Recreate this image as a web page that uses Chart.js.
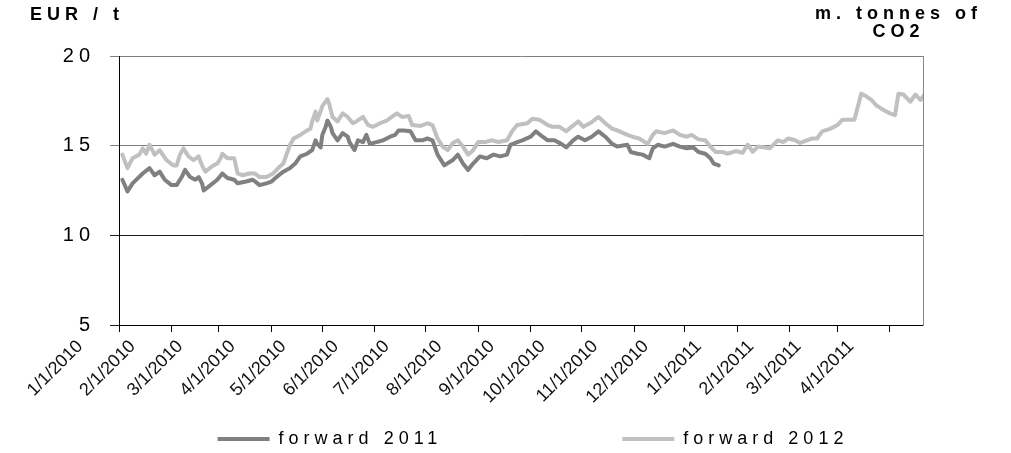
<!DOCTYPE html>
<html>
<head>
<meta charset="utf-8">
<script src="https://cdn.jsdelivr.net/npm/chart.js@4"></script>
<style>
  html, body { margin: 0; padding: 0; background: #fff; }
  #wrap { width: 1011px; height: 453px; position: relative; }
</style>
</head>
<body>
<div id="wrap"><canvas id="c"></canvas></div>
<script>
// ---- data (day 0 = 1 Jan 2010) ----
const monthDays = [0, 31, 59, 90, 120, 151, 181, 212, 243, 273, 304, 334, 365, 396, 424, 455];
const monthLabels = ['1/1/2010', '2/1/2010', '3/1/2010', '4/1/2010', '5/1/2010', '6/1/2010', '7/1/2010', '8/1/2010',
  '9/1/2010', '10/1/2010', '11/1/2010', '12/1/2010', '1/1/2011', '2/1/2011', '3/1/2011', '4/1/2011'];
const yTicks = [5, 10, 15, 20];
const seriesNames = ['forward 2011', 'forward 2012'];
const leftTitle = 'EUR / t';
const rightTitle = ['m. tonnes of', 'CO2'];

const days2011 = [2, 5, 8, 14, 18, 21, 24, 27, 31, 34,
  37, 39, 42, 45, 47, 49, 50, 54, 58, 61,
  64, 68, 70, 75, 79, 83, 87, 90, 93, 97,
  101, 104, 107, 111, 114, 116, 117, 119, 120, 122,
  123, 125, 126, 129, 132, 135, 136, 139, 141, 144,
  146, 148, 152, 156, 160, 163, 165, 168, 172, 175,
  179, 182, 185, 188, 192, 197, 200, 203, 206, 209,
  213, 217, 221, 225, 229, 231, 235, 238, 243, 246,
  250, 253, 257, 261, 264, 268, 271, 275, 279, 283,
  287, 291, 294, 300, 302, 306, 309, 313, 315, 318,
  322, 327, 331, 335, 339, 342, 346, 349, 351, 354];
const fwd2011 = [13.1, 12.45, 12.9, 13.45, 13.75, 13.35, 13.55, 13.1, 12.8, 12.8,
  13.25, 13.65, 13.25, 13.1, 13.25, 12.9, 12.5, 12.8, 13.1, 13.45,
  13.2, 13.1, 12.9, 13.0, 13.1, 12.8, 12.9, 13.0, 13.25, 13.55,
  13.75, 14.0, 14.4, 14.55, 14.75, 15.3, 15.1, 14.9, 15.6, 16.05,
  16.4, 16.05, 15.7, 15.3, 15.7, 15.5, 15.2, 14.75, 15.3, 15.2,
  15.6, 15.1, 15.2, 15.3, 15.5, 15.6, 15.85, 15.85, 15.8, 15.3,
  15.3, 15.4, 15.3, 14.5, 13.9, 14.2, 14.5, 14.0, 13.65, 14.0,
  14.4, 14.3, 14.5, 14.4, 14.5, 15.05, 15.2, 15.3, 15.5, 15.8,
  15.5, 15.3, 15.3, 15.1, 14.9, 15.3, 15.5, 15.3, 15.5, 15.8,
  15.5, 15.1, 14.95, 15.05, 14.65, 14.55, 14.5, 14.3, 14.85, 15.05,
  14.95, 15.1, 14.95, 14.85, 14.9, 14.65, 14.55, 14.3, 14.0, 13.9];

const days2012 = [2, 5, 8, 12, 14, 16, 18, 21, 24, 28,
  32, 34, 36, 38, 41, 44, 47, 49, 51, 55,
  58, 60, 61, 64, 68, 70, 73, 77, 80, 83,
  87, 91, 94, 97, 99, 101, 103, 107, 111, 113,
  114, 116, 117, 120, 123, 124, 126, 129, 132, 135,
  138, 140, 144, 147, 150, 154, 158, 161, 164, 167,
  171, 173, 178, 182, 185, 188, 191, 194, 197, 200,
  203, 206, 209, 212, 216, 220, 224, 229, 232, 235,
  241, 244, 248, 253, 256, 260, 264, 267, 271, 274,
  278, 283, 287, 291, 294, 300, 303, 307, 312, 315,
  317, 322, 327, 331, 335, 338, 342, 346, 349, 352,
  356, 359, 364, 368, 371, 374, 377, 381, 384, 389,
  392, 395, 399, 402, 406, 409, 412, 415, 420, 424,
  427, 430, 434, 436, 438, 441, 444, 447, 451, 455,
  458, 460, 463, 467, 470, 473, 475];
const fwd2012 = [14.5, 13.75, 14.3, 14.5, 14.85, 14.55, 15.05, 14.5, 14.75, 14.2,
  13.9, 13.9, 14.5, 14.85, 14.4, 14.2, 14.4, 13.9, 13.55, 13.85,
  14.0, 14.3, 14.55, 14.3, 14.3, 13.45, 13.35, 13.45, 13.45, 13.25,
  13.25, 13.45, 13.75, 14.0, 14.55, 15.05, 15.4, 15.6, 15.85, 15.95,
  16.35, 16.9, 16.4, 17.2, 17.6, 17.35, 16.6, 16.35, 16.8, 16.6,
  16.25, 16.35, 16.6, 16.15, 16.05, 16.25, 16.4, 16.6, 16.8, 16.6,
  16.65, 16.15, 16.1, 16.25, 16.15, 15.4, 14.95, 14.75, 15.15, 15.3,
  14.95, 14.5, 14.75, 15.2, 15.2, 15.3, 15.2, 15.3, 15.8, 16.15,
  16.25, 16.5, 16.45, 16.15, 16.05, 16.05, 15.8, 16.05, 16.35, 16.05,
  16.25, 16.6, 16.25, 15.95, 15.85, 15.6, 15.5, 15.4, 15.1, 15.6,
  15.8, 15.7, 15.85, 15.6, 15.5, 15.6, 15.35, 15.3, 14.95, 14.65,
  14.65, 14.55, 14.7, 14.6, 15.05, 14.65, 14.95, 14.9, 14.85, 15.3,
  15.2, 15.4, 15.3, 15.15, 15.3, 15.4, 15.4, 15.8, 15.95, 16.15,
  16.45, 16.45, 16.45, 17.15, 17.9, 17.75, 17.55, 17.25, 17.0, 16.8,
  16.7, 17.9, 17.85, 17.45, 17.85, 17.55, 17.8];

// ---- styling ----
const FONT = "'Liberation Sans', Arial, Helvetica, sans-serif";
const SPACED = '5px';
const DARK = '#808080';
const LIGHT = '#c0c0c0';

// letter-spaced text for y labels & legend (z 0), normal for x labels (z 1)
const spacingPlugin = {
  id: 'spacing',
  beforeLayout(chart) { chart.ctx.letterSpacing = SPACED; },
  beforeDraw(chart) {
    chart.ctx.letterSpacing = SPACED;
    // rotated x labels hang below the (short) x-axis box: do not clip them
    if (chart.scales.x) chart.scales.x._computeLabelArea = () => undefined;
  },
  beforeDatasetsDraw(chart) { chart.ctx.letterSpacing = '0px'; }
};

const headerPlugin = {
  id: 'headers',
  afterDraw(chart) {
    const ctx = chart.ctx;
    ctx.save();
    ctx.letterSpacing = SPACED;
    ctx.fillStyle = '#000';
    ctx.font = 'bold 18px ' + FONT;
    ctx.textBaseline = 'middle';
    ctx.textAlign = 'left';
    ctx.fillText(leftTitle, 30, 15);
    ctx.textAlign = 'center';
    rightTitle.forEach((t, i) => ctx.fillText(t, 898.5, 14 + i * 18));
    ctx.restore();
  }
};

new Chart(document.getElementById('c'), {
  type: 'line',
  data: {
    datasets: [
      { label: seriesNames[0], data: days2011.map((d, i) => ({ x: d, y: fwd2011[i] })),
        borderColor: DARK, backgroundColor: DARK, order: 1 },
      { label: seriesNames[1], data: days2012.map((d, i) => ({ x: d, y: fwd2012[i] })),
        borderColor: LIGHT, backgroundColor: LIGHT, order: 0 }
    ]
  },
  options: {
    responsive: true,
    maintainAspectRatio: false,
    animation: false,
    events: [],
    elements: {
      line: { borderWidth: 4, tension: 0, borderJoinStyle: 'round', borderCapStyle: 'round', fill: false },
      point: { radius: 0 }
    },
    layout: { padding: { top: 56, left: 55, right: 0, bottom: -5 } },
    plugins: {
      tooltip: { enabled: false },
      title: { display: false },
      legend: {
        position: 'bottom',
        labels: {
          color: '#000',
          font: { size: 18, family: FONT },
          boxWidth: 52,
          boxHeight: 4,
          padding: 59.5,
          generateLabels(chart) {
            const ds = chart.data.datasets;
            const item = (d, i) => ({ text: d.label, fillStyle: d.borderColor, strokeStyle: d.borderColor,
              lineWidth: 0, hidden: false, datasetIndex: i });
            return [item(ds[0], 0),
              { text: '', fillStyle: 'rgba(0,0,0,0)', strokeStyle: 'rgba(0,0,0,0)', lineWidth: 0, hidden: false, datasetIndex: -1 },
              item(ds[1], 1)];
          }
        }
      }
    },
    scales: {
      x: {
        type: 'linear',
        min: 0,
        max: 474.5,
        afterBuildTicks(scale) { scale.ticks = monthDays.map(v => ({ value: v })); },
        afterFit(scale) { scale.height = 45.5; },
        ticks: {
          autoSkip: false, minRotation: 45, maxRotation: 45,
          labelOffset: -39, padding: 4, z: 1, color: '#111',
          font: { size: 18, family: FONT },
          callback(value, index) { return monthLabels[index]; }
        },
        grid: { drawOnChartArea: false, drawTicks: true, tickLength: 7, color: '#000' },
        border: { color: '#000', width: 1 }
      },
      y: {
        min: 5,
        max: 20,
        afterBuildTicks(scale) { scale.ticks = yTicks.map(v => ({ value: v })); },
        afterFit(scale) { scale.width = 64; },
        ticks: { padding: 15, color: '#000', font: { size: 20, family: FONT } },
        grid: {
          tickLength: 9,
          color(c) {
            const v = c.tick ? c.tick.value : null;
            if (v === 10 || v === 5) return '#1a1a1a';
            return '#808080';
          }
        },
        border: { color: '#000', width: 1 }
      },
      y2: {
        position: 'right',
        min: 5,
        max: 20,
        afterFit(scale) { scale.width = 88; },
        ticks: { display: false },
        grid: { display: false },
        border: { color: '#888', width: 1 }
      }
    }
  },
  plugins: [spacingPlugin, headerPlugin]
});
</script>
</body>
</html>
